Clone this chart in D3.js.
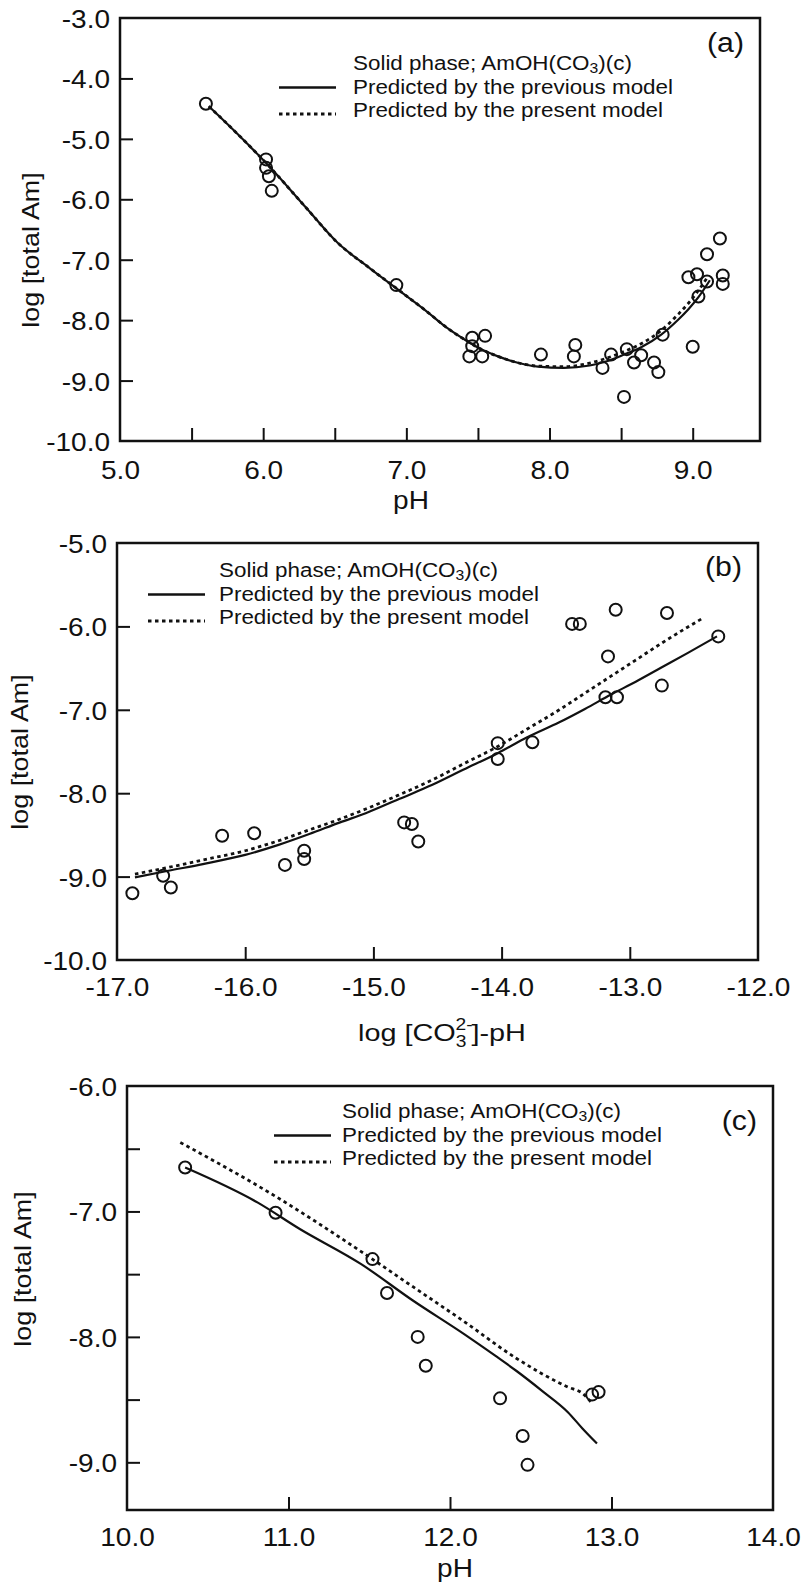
<!DOCTYPE html>
<html>
<head>
<meta charset="utf-8">
<script src="https://cdn.jsdelivr.net/npm/d3@7"></script>
<style>
  body { margin: 0; background: #fff; }
  svg { display: block; }
  text { font-family: "Liberation Sans", Arial, Helvetica, sans-serif; fill: #111; }
</style>
</head>
<body>
<svg id="fig" width="804" height="1585"></svg>
<script>
// ---------- (a) solubility vs pH ----------
const phA    = [5.60, 6.02, 6.02, 6.04, 6.06, 6.93, 7.46, 7.55, 7.46, 7.44, 7.53, 7.94, 8.18, 8.17, 8.37, 8.43,
                8.52, 8.54, 8.59, 8.64, 8.73, 8.76, 8.79, 9.00, 8.97, 9.03, 9.04, 9.10, 9.10, 9.19, 9.21, 9.21];
const logAmA = [-4.42, -5.34, -5.48, -5.62, -5.86, -7.42, -8.29, -8.26, -8.43, -8.60, -8.60, -8.57, -8.41, -8.60, -8.79, -8.57,
                -9.27, -8.48, -8.70, -8.58, -8.70, -8.86, -8.24, -8.44, -7.29, -7.24, -7.61, -7.36, -6.91, -6.65, -7.26, -7.40];
const prevA_x = [5.62, 5.80, 6.04, 6.30, 6.52, 6.75, 6.99, 7.15, 7.28, 7.42, 7.53, 7.64, 7.74, 7.92, 8.10, 8.28, 8.40, 8.52, 8.64, 8.78, 8.90, 8.97, 9.04, 9.12];
const prevA_y = [-4.46, -4.87, -5.45, -6.14, -6.72, -7.15, -7.58, -7.87, -8.12, -8.34, -8.49, -8.60, -8.68, -8.77, -8.79, -8.75, -8.68, -8.57, -8.45, -8.24, -7.99, -7.82, -7.62, -7.34];
const presA_x = [5.62, 5.80, 6.04, 6.30, 6.52, 6.75, 6.99, 7.15, 7.28, 7.42, 7.53, 7.64, 7.74, 7.92, 8.10, 8.28, 8.40, 8.52, 8.64, 8.78, 8.90, 8.97, 9.04, 9.10];
const presA_y = [-4.46, -4.87, -5.45, -6.14, -6.72, -7.15, -7.58, -7.87, -8.12, -8.34, -8.49, -8.60, -8.68, -8.76, -8.77, -8.71, -8.63, -8.52, -8.39, -8.17, -7.90, -7.72, -7.51, -7.30];

// ---------- (b) solubility vs log[CO3 2-]-pH ----------
const co3B    = [-16.88, -16.64, -16.58, -16.18, -15.93, -15.69, -15.54, -15.54, -14.76, -14.70, -14.65, -14.03, -14.03, -13.76,
                 -13.45, -13.39, -13.19, -13.10, -13.17, -13.11, -12.75, -12.71, -12.31];
const logAmB  = [-9.20, -8.99, -9.13, -8.51, -8.48, -8.86, -8.79, -8.69, -8.35, -8.37, -8.58, -7.40, -7.59, -7.39,
                 -5.97, -5.97, -6.85, -6.85, -6.36, -5.80, -6.71, -5.84, -6.12];
const prevB_x = [-16.86, -16.60, -16.33, -16.00, -15.74, -15.50, -15.26, -15.06, -14.80, -14.54, -14.30, -14.03, -13.80, -13.55, -13.35, -13.15, -12.95, -12.75, -12.55, -12.32];
const prevB_y = [-9.01, -8.93, -8.85, -8.74, -8.62, -8.49, -8.35, -8.24, -8.07, -7.90, -7.72, -7.52, -7.33, -7.15, -6.99, -6.82, -6.66, -6.49, -6.32, -6.12];
const presB_x = [-16.86, -16.60, -16.33, -16.00, -15.74, -15.50, -15.26, -15.06, -14.80, -14.54, -14.30, -14.03, -13.80, -13.55, -13.35, -13.15, -12.95, -12.75, -12.55, -12.44];
const presB_y = [-8.97, -8.89, -8.80, -8.69, -8.57, -8.44, -8.31, -8.19, -8.02, -7.84, -7.65, -7.44, -7.23, -7.00, -6.80, -6.60, -6.40, -6.20, -6.01, -5.91];

// ---------- (c) solubility vs pH (high pH) ----------
const phC     = [10.36, 10.92, 11.52, 11.61, 11.80, 11.85, 12.31, 12.45, 12.48, 12.88, 12.92];
const logAmC  = [-6.65, -7.01, -7.38, -7.65, -8.00, -8.23, -8.49, -8.79, -9.02, -8.46, -8.44];
const prevC_x = [10.36, 10.81, 11.07, 11.45, 11.77, 12.09, 12.28, 12.41, 12.57, 12.73, 12.82, 12.91];
const prevC_y = [-6.65, -6.93, -7.14, -7.42, -7.71, -7.98, -8.15, -8.27, -8.43, -8.60, -8.73, -8.85];
const presC_x = [10.33, 10.92, 11.45, 11.77, 12.09, 12.41, 12.73, 12.82, 12.88];
const presC_y = [-6.45, -6.88, -7.32, -7.60, -7.88, -8.17, -8.40, -8.45, -8.53];

// ---------- tick values and labels ----------
const xTicksA  = [5.5, 6.0, 6.5, 7.0, 7.5, 8.0, 8.5, 9.0];
const xLabelsA = [5, 6, 7, 8, 9];
const yTicksA  = [-4, -5, -6, -7, -8, -9];
const yLabelsA = [-3, -4, -5, -6, -7, -8, -9, -10];
const xTicksB  = [-16, -15, -14, -13];
const xLabelsB = [-17, -16, -15, -14, -13, -12];
const yTicksB  = [-6, -7, -8, -9];
const yLabelsB = [-5, -6, -7, -8, -9, -10];
const xTicksC  = [11, 12, 13];
const xLabelsC = [10, 11, 12, 13, 14];
const yTicksC  = [-6.5, -7, -7.5, -8, -8.5, -9];
const yLabelsC = [-6, -7, -8, -9];

const legendLines = ["Solid phase; AmOH(CO", "Predicted by the previous model", "Predicted by the present model"];

const svg = d3.select("#fig");
const fmt = v => v.toFixed(1);
const zip = (xs, ys) => xs.map((x, i) => [x, ys[i]]);

const panels = [
  { tag: "(a)", tagPos: [744, 52],
    xDomain: [5, 9.47], yDomain: [-10, -3], box: { l: 120, r: 760, t: 18, b: 441 },
    xTicks: xTicksA, xLabels: xLabelsA, yTicks: yTicksA, yLabels: yLabelsA, xPad: 20,
    pts: zip(phA, logAmA), prev: zip(prevA_x, prevA_y), pres: zip(presA_x, presA_y),
    xTitle: "pH", xTitlePos: [411, 509], yTitlePos: [31, 250],
    legend: { x: 353, y: 70, sx: 279, sw: 57 } },
  { tag: "(b)", tagPos: [742, 576],
    xDomain: [-17, -12], yDomain: [-10, -5], box: { l: 117, r: 758, t: 543, b: 960 },
    xTicks: xTicksB, xLabels: xLabelsB, yTicks: yTicksB, yLabels: yLabelsB, xPad: 18,
    pts: zip(co3B, logAmB), prev: zip(prevB_x, prevB_y), pres: zip(presB_x, presB_y),
    xTitle: "co3", xTitlePos: [442, 1041], yTitlePos: [20, 752],
    legend: { x: 219, y: 577, sx: 148, sw: 57 } },
  { tag: "(c)", tagPos: [757, 1130],
    xDomain: [10, 14], yDomain: [-9.38, -6], box: { l: 127, r: 773, t: 1086, b: 1510 },
    xTicks: xTicksC, xLabels: xLabelsC, yTicks: yTicksC, yLabels: yLabelsC, xPad: 18,
    pts: zip(phC, logAmC), prev: zip(prevC_x, prevC_y), pres: zip(presC_x, presC_y),
    xTitle: "pH", xTitlePos: [455, 1577], yTitlePos: [23, 1269],
    legend: { x: 342, y: 1118, sx: 274, sw: 57 } }
];

const LEG_GAP = 23.5;

function drawPanel(p) {
  const { l, r, t, b } = p.box;
  const x = d3.scaleLinear().domain(p.xDomain).range([l, r]);
  const y = d3.scaleLinear().domain(p.yDomain).range([b, t]);
  const g = svg.append("g");

  // inward tick marks
  const tickAxisX = g.append("g").attr("transform", `translate(0,${b})`)
    .call(d3.axisBottom(x).tickValues(p.xTicks).tickSizeInner(-13).tickSizeOuter(0).tickFormat(""));
  const tickAxisY = g.append("g").attr("transform", `translate(${l},0)`)
    .call(d3.axisLeft(y).tickValues(p.yTicks).tickSizeInner(-13).tickSizeOuter(0).tickFormat(""));
  [tickAxisX, tickAxisY].forEach(a => {
    a.select(".domain").remove();
    a.selectAll("line").attr("stroke", "#111").attr("stroke-width", 2);
  });

  // tick labels
  const labX = g.append("g").attr("transform", `translate(0,${b})`)
    .call(d3.axisBottom(x).tickValues(p.xLabels).tickSize(0).tickPadding(p.xPad).tickFormat(fmt));
  const labY = g.append("g").attr("transform", `translate(${l},0)`)
    .call(d3.axisLeft(y).tickValues(p.yLabels).tickSize(0).tickPadding(10).tickFormat(fmt));
  [labX, labY].forEach(a => {
    a.select(".domain").remove();
    a.attr("font-family", null).attr("font-size", null);
    a.selectAll("text").attr("font-size", 25).attr("fill", "#111");
  });
  labY.selectAll("text").attr("dy", "0.38em");

  // frame
  g.append("rect").attr("x", l).attr("y", t).attr("width", r - l).attr("height", b - t)
    .attr("fill", "none").attr("stroke", "#111").attr("stroke-width", 2.5);

  // model curves
  const line = d3.line().x(d => x(d[0])).y(d => y(d[1])).curve(d3.curveMonotoneX);
  g.append("path").datum(p.prev).attr("d", line)
    .attr("fill", "none").attr("stroke", "#111").attr("stroke-width", 2.2);
  g.append("path").datum(p.pres).attr("d", line)
    .attr("fill", "none").attr("stroke", "#111").attr("stroke-width", 2.8)
    .attr("stroke-dasharray", "3.5,3.5");

  // measured points
  g.append("g").selectAll("circle").data(p.pts).join("circle")
    .attr("cx", d => x(d[0])).attr("cy", d => y(d[1])).attr("r", 6)
    .attr("fill", "none").attr("stroke", "#111").attr("stroke-width", 2);

  // legend
  const lg = p.legend;
  const t1 = g.append("text").attr("x", lg.x).attr("y", lg.y).attr("font-size", 20);
  t1.append("tspan").text(legendLines[0]);
  t1.append("tspan").attr("font-size", 14).attr("dy", 3).text("3");
  t1.append("tspan").attr("dy", -3).text(")(c)");
  g.append("text").attr("x", lg.x).attr("y", lg.y + LEG_GAP).attr("font-size", 20).text(legendLines[1]);
  g.append("text").attr("x", lg.x).attr("y", lg.y + 2 * LEG_GAP).attr("font-size", 20).text(legendLines[2]);
  g.append("line").attr("x1", lg.sx).attr("x2", lg.sx + lg.sw)
    .attr("y1", lg.y + LEG_GAP - 6).attr("y2", lg.y + LEG_GAP - 6)
    .attr("stroke", "#111").attr("stroke-width", 2.5);
  g.append("line").attr("x1", lg.sx).attr("x2", lg.sx + lg.sw)
    .attr("y1", lg.y + 2 * LEG_GAP - 3).attr("y2", lg.y + 2 * LEG_GAP - 3)
    .attr("stroke", "#111").attr("stroke-width", 2.8).attr("stroke-dasharray", "3.5,3.5");

  // panel tag
  g.append("text").attr("x", p.tagPos[0]).attr("y", p.tagPos[1]).attr("text-anchor", "end")
    .attr("font-size", 27).text(p.tag);

  // axis titles
  if (p.xTitle === "co3") {
    const xt = g.append("text").attr("x", p.xTitlePos[0]).attr("y", p.xTitlePos[1])
      .attr("text-anchor", "middle").attr("font-size", 24);
    xt.append("tspan").text("log [CO");
    xt.append("tspan").attr("font-size", 16).attr("dy", 6).text("3");
    xt.append("tspan").attr("font-size", 16).attr("dx", -9).attr("dy", -17).text("2-");
    xt.append("tspan").attr("dx", -1).attr("dy", 11).text("]-pH");
  } else {
    g.append("text").attr("x", p.xTitlePos[0]).attr("y", p.xTitlePos[1])
      .attr("text-anchor", "middle").attr("font-size", 25).text(p.xTitle);
  }
  g.append("text")
    .attr("transform", `translate(${p.yTitlePos[0]},${p.yTitlePos[1]}) rotate(-90)`)
    .attr("dy", "0.35em").attr("text-anchor", "middle").attr("font-size", 24)
    .text("log [total Am]");
}

panels.forEach(drawPanel);

// the typeface in this figure runs a little wider than Arial; stretch each string horizontally
svg.selectAll("text").each(function () {
  const w = this.getComputedTextLength();
  d3.select(this).attr("textLength", w * 1.12).attr("lengthAdjust", "spacingAndGlyphs");
});
</script>
</body>
</html>
